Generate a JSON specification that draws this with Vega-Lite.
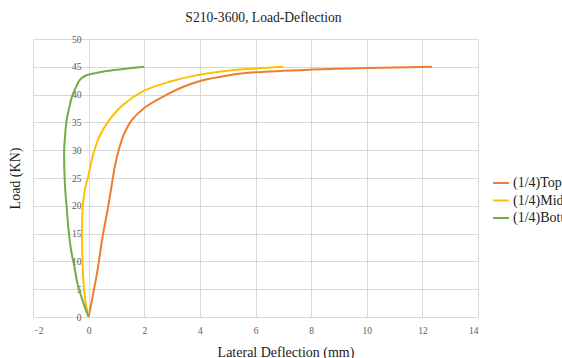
{
  "$schema": "https://vega.github.io/schema/vega-lite/v6.json",
  "autosize": "none",
  "padding": {"left": 33, "top": 39, "right": 84, "bottom": 41},
  "width": 445,
  "height": 278,
  "background": "white",
  "title": {
    "text": "S210-3600, Load-Deflection",
    "font": "Liberation Serif",
    "fontSize": 13.6,
    "fontWeight": "normal",
    "color": "#222222",
    "anchor": "middle",
    "dx": 8,
    "offset": 9
  },
  "config": {
    "view": {"stroke": null},
    "axis": {
      "labelFont": "Liberation Serif",
      "labelFontSize": 9.5,
      "labelColor": "#595959",
      "titleFont": "Liberation Serif",
      "titleFontSize": 14,
      "titleFontWeight": "normal",
      "titleColor": "#222222",
      "gridColor": "#d9d9d9",
      "gridWidth": 1,
      "ticks": false,
      "domain": false
    }
  },
  "data": {
    "values": [
      {"s": "(1/4)Top", "i": 0, "x": 0, "y": 0},
      {"s": "(1/4)Top", "i": 1, "x": 0.14, "y": 3.6},
      {"s": "(1/4)Top", "i": 2, "x": 0.32, "y": 8.4},
      {"s": "(1/4)Top", "i": 3, "x": 0.5, "y": 14.4},
      {"s": "(1/4)Top", "i": 4, "x": 0.68, "y": 19.2},
      {"s": "(1/4)Top", "i": 5, "x": 0.82, "y": 23.4},
      {"s": "(1/4)Top", "i": 6, "x": 0.94, "y": 27},
      {"s": "(1/4)Top", "i": 7, "x": 1.08, "y": 30},
      {"s": "(1/4)Top", "i": 8, "x": 1.28, "y": 33},
      {"s": "(1/4)Top", "i": 9, "x": 1.55, "y": 35.4},
      {"s": "(1/4)Top", "i": 10, "x": 2.0, "y": 37.6},
      {"s": "(1/4)Top", "i": 11, "x": 2.66, "y": 39.6},
      {"s": "(1/4)Top", "i": 12, "x": 3.5, "y": 41.6},
      {"s": "(1/4)Top", "i": 13, "x": 4.3, "y": 42.8},
      {"s": "(1/4)Top", "i": 14, "x": 5.06, "y": 43.5},
      {"s": "(1/4)Top", "i": 15, "x": 6.0, "y": 44.0},
      {"s": "(1/4)Top", "i": 16, "x": 8.0, "y": 44.5},
      {"s": "(1/4)Top", "i": 17, "x": 10.0, "y": 44.8},
      {"s": "(1/4)Top", "i": 18, "x": 12.35, "y": 45.0},
      {"s": "(1/4)Middle", "i": 0, "x": 0, "y": 0},
      {"s": "(1/4)Middle", "i": 1, "x": -0.12, "y": 3},
      {"s": "(1/4)Middle", "i": 2, "x": -0.18, "y": 6},
      {"s": "(1/4)Middle", "i": 3, "x": -0.22, "y": 10},
      {"s": "(1/4)Middle", "i": 4, "x": -0.24, "y": 15},
      {"s": "(1/4)Middle", "i": 5, "x": -0.21, "y": 20},
      {"s": "(1/4)Middle", "i": 6, "x": -0.13, "y": 23},
      {"s": "(1/4)Middle", "i": 7, "x": 0.0, "y": 25.6},
      {"s": "(1/4)Middle", "i": 8, "x": 0.14, "y": 28.8},
      {"s": "(1/4)Middle", "i": 9, "x": 0.38, "y": 32.4},
      {"s": "(1/4)Middle", "i": 10, "x": 0.74, "y": 35.4},
      {"s": "(1/4)Middle", "i": 11, "x": 1.22, "y": 38.1},
      {"s": "(1/4)Middle", "i": 12, "x": 2.0, "y": 40.7},
      {"s": "(1/4)Middle", "i": 13, "x": 2.9, "y": 42.3},
      {"s": "(1/4)Middle", "i": 14, "x": 3.9, "y": 43.5},
      {"s": "(1/4)Middle", "i": 15, "x": 5.0, "y": 44.3},
      {"s": "(1/4)Middle", "i": 16, "x": 6.0, "y": 44.7},
      {"s": "(1/4)Middle", "i": 17, "x": 7.0, "y": 45.0},
      {"s": "(1/4)Bottom", "i": 0, "x": 0, "y": 0},
      {"s": "(1/4)Bottom", "i": 1, "x": -0.22, "y": 3},
      {"s": "(1/4)Bottom", "i": 2, "x": -0.4, "y": 6},
      {"s": "(1/4)Bottom", "i": 3, "x": -0.51, "y": 9},
      {"s": "(1/4)Bottom", "i": 4, "x": -0.63, "y": 12},
      {"s": "(1/4)Bottom", "i": 5, "x": -0.72, "y": 15.6},
      {"s": "(1/4)Bottom", "i": 6, "x": -0.79, "y": 19.8},
      {"s": "(1/4)Bottom", "i": 7, "x": -0.84, "y": 22.8},
      {"s": "(1/4)Bottom", "i": 8, "x": -0.87, "y": 26},
      {"s": "(1/4)Bottom", "i": 9, "x": -0.88, "y": 30},
      {"s": "(1/4)Bottom", "i": 10, "x": -0.85, "y": 32.4},
      {"s": "(1/4)Bottom", "i": 11, "x": -0.79, "y": 35.4},
      {"s": "(1/4)Bottom", "i": 12, "x": -0.69, "y": 37.8},
      {"s": "(1/4)Bottom", "i": 13, "x": -0.58, "y": 39.9},
      {"s": "(1/4)Bottom", "i": 14, "x": -0.45, "y": 41.4},
      {"s": "(1/4)Bottom", "i": 15, "x": -0.32, "y": 42.6},
      {"s": "(1/4)Bottom", "i": 16, "x": -0.15, "y": 43.3},
      {"s": "(1/4)Bottom", "i": 17, "x": 0.27, "y": 43.9},
      {"s": "(1/4)Bottom", "i": 18, "x": 0.74, "y": 44.3},
      {"s": "(1/4)Bottom", "i": 19, "x": 1.4, "y": 44.7},
      {"s": "(1/4)Bottom", "i": 20, "x": 2.0, "y": 45.0}
    ]
  },
  "mark": {"type": "line", "strokeWidth": 2, "interpolate": "catmull-rom", "clip": true},
  "encoding": {
    "x": {
      "field": "x",
      "type": "quantitative",
      "scale": {"domain": [-2, 14], "nice": false, "zero": false},
      "axis": {
        "title": "Lateral Deflection (mm)",
        "values": [-2, 0, 2, 4, 6, 8, 10, 12, 14],
        "labelPadding": 8,
        "titleX": 252.5,
        "titleY": 35,
        "titleBaseline": "middle"
      }
    },
    "y": {
      "field": "y",
      "type": "quantitative",
      "scale": {"domain": [0, 50], "nice": false},
      "axis": {
        "title": "Load (KN)",
        "values": [0, 5, 10, 15, 20, 25, 30, 35, 40, 45, 50],
        "offset": -56,
        "labelPadding": 8,
        "titleX": -74,
        "titleY": 139,
        "titleAngle": -90,
        "titleAlign": "center",
        "titleBaseline": "middle"
      }
    },
    "color": {
      "field": "s",
      "type": "nominal",
      "scale": {
        "domain": ["(1/4)Top", "(1/4)Middle", "(1/4)Bottom"],
        "range": ["#ED7D31", "#FFC000", "#70AD47"]
      },
      "legend": {
        "title": null,
        "orient": "none",
        "legendX": 459,
        "legendY": 135,
        "symbolType": "stroke",
        "symbolSize": 250,
        "symbolStrokeWidth": 2,
        "labelFont": "Liberation Serif",
        "labelFontSize": 14,
        "labelColor": "#222222",
        "rowPadding": 1.5,
        "labelOffset": 3
      }
    },
    "order": {"field": "i", "type": "quantitative"}
  }
}
